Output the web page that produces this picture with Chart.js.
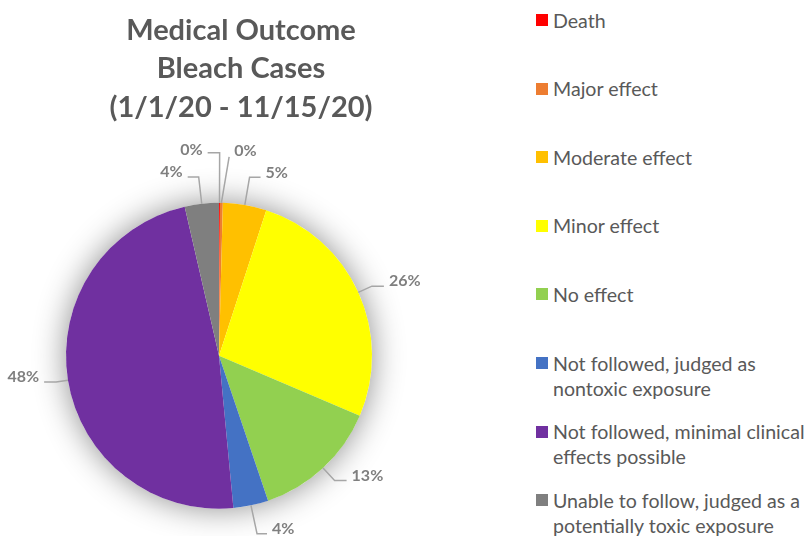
<!DOCTYPE html>
<html>
<head>
<meta charset="utf-8">
<script src="https://cdn.jsdelivr.net/npm/chart.js@4.4.0/dist/chart.umd.min.js"></script>
<style>
  body { margin: 0; background: #fff; font-family: Lato, "Open Sans", sans-serif; }
  #wrap { position: absolute; left: 0; top: 0; width: 482px; height: 536px; }
  #legend { position: absolute; left: 536px; top: 7.5px; color: #595959; font-size: 19.6px; line-height: 25px; }
  .item { position: absolute; left: 0; white-space: nowrap; }
  .sw { position: absolute; left: 0; top: 6.5px; width: 12px; height: 12px; }
  .txt { position: absolute; left: 17px; top: 0; }
</style>
</head>
<body>
<div id="wrap"><canvas id="pie"></canvas></div>
<div id="legend"></div>
<script>
// outcome categories (clockwise from 12 o'clock)
const outcomes = [
  "Death",
  "Major effect",
  "Moderate effect",
  "Minor effect",
  "No effect",
  ["Not followed, judged as", "nontoxic exposure"],
  ["Not followed, minimal clinical", "effects possible"],
  ["Unable to follow, judged as a", "potentially toxic exposure"]
];
// share of cases, %
const outcomeShare = [0.1, 0.3, 4.6, 26.4, 13.4, 3.7, 47.9, 3.6];
const outcomeColors = ["#FF0000", "#ED7D31", "#FFC000", "#FFFF00", "#92D050", "#4472C4", "#7030A0", "#7F7F7F"];
const titleLines = ["Medical Outcome", "Bleach Cases", "(1/1/20 - 11/15/20)"];

// leader line setup per slice: ext = how far past the edge, h = horizontal tail
const labelSetup = [
  {ext: 50, h: 12, side: -1, dy: -3},
  {ext: 46, h: 0, side: 1, dx: 7, dy: -6},
  {ext: 28, h: 11},
  {ext: 15, h: 12},
  {ext: 17, h: 12},
  {ext: 29, h: 10},
  {ext: 12, h: 12},
  {ext: 27, h: 11}
];

// html legend on the right
const legend = document.getElementById("legend");
outcomes.forEach((name, i) => {
  const item = document.createElement("div");
  item.className = "item";
  item.style.top = (i * 68.6) + "px";
  const sw = document.createElement("span");
  sw.className = "sw";
  sw.style.background = outcomeColors[i];
  const txt = document.createElement("span");
  txt.className = "txt";
  txt.innerHTML = [].concat(name).join("<br>");
  item.appendChild(sw);
  item.appendChild(txt);
  legend.appendChild(item);
});

// title is centred over the whole canvas, not over the pie
const titleSpan = {
  id: "titleSpan",
  afterLayout(chart) {
    if (chart.titleBlock) {
      chart.titleBlock.left = 0;
      chart.titleBlock.right = chart.width;
    }
  }
};

// soft glow behind the pie
const glowPlugin = {
  id: "glow",
  beforeDatasetsDraw(chart) {
    const arc = chart.getDatasetMeta(0).data[0];
    if (!arc) return;
    const ctx = chart.ctx;
    ctx.save();
    ctx.shadowColor = "rgba(0,0,0,0.45)";
    ctx.shadowBlur = 32;
    ctx.fillStyle = "#fff";
    ctx.beginPath();
    ctx.arc(arc.x, arc.y, arc.outerRadius, 0, Math.PI * 2);
    ctx.fill();
    ctx.restore();
  }
};

// percentage labels outside the pie with leader lines
const labelPlugin = {
  id: "outLabels",
  afterDatasetsDraw(chart) {
    const ctx = chart.ctx;
    const meta = chart.getDatasetMeta(0);
    const total = outcomeShare.reduce((a, b) => a + b, 0);
    meta.data.forEach((arc, i) => {
      const o = labelSetup[i];
      const m = (arc.startAngle + arc.endAngle) / 2;
      const r = arc.outerRadius;
      const x0 = arc.x + Math.cos(m) * r, y0 = arc.y + Math.sin(m) * r;
      const x1 = arc.x + Math.cos(m) * (r + o.ext) + (o.dx || 0);
      const y1 = arc.y + Math.sin(m) * (r + o.ext);
      const side = o.side || (Math.cos(m) >= 0 ? 1 : -1);
      const x2 = x1 + side * o.h;
      ctx.save();
      ctx.strokeStyle = "#a6a6a6";
      ctx.lineWidth = 1.5;
      ctx.beginPath();
      ctx.moveTo(x0, y0);
      ctx.lineTo(x1, y1);
      ctx.lineTo(x2, y1);
      ctx.stroke();
      ctx.fillStyle = "#7f7f7f";
      ctx.font = "bold 16px Lato";
      ctx.textAlign = side > 0 ? "left" : "right";
      ctx.textBaseline = "middle";
      ctx.fillText(Math.round(outcomeShare[i] / total * 100) + "%", x2 + side * 5, y1 + (o.dy !== undefined ? o.dy : -5));
      ctx.restore();
    });
  }
};

new Chart(document.getElementById("pie"), {
  type: "pie",
  data: {
    labels: outcomes,
    datasets: [{
      data: outcomeShare,
      backgroundColor: outcomeColors,
      borderWidth: 0
    }]
  },
  options: {
    responsive: true,
    maintainAspectRatio: false,
    animation: false,
    layout: {padding: {left: 66, right: 110, top: 0, bottom: 27}},
    plugins: {
      legend: {display: false},
      tooltip: {enabled: false},
      title: {
        display: true,
        text: titleLines,
        color: "#595959",
        font: {family: "Lato", size: 29, weight: "bold", lineHeight: 1.3276},
        padding: {top: 11, bottom: 76}
      }
    }
  },
  plugins: [titleSpan, glowPlugin, labelPlugin]
});
</script>
</body>
</html>
